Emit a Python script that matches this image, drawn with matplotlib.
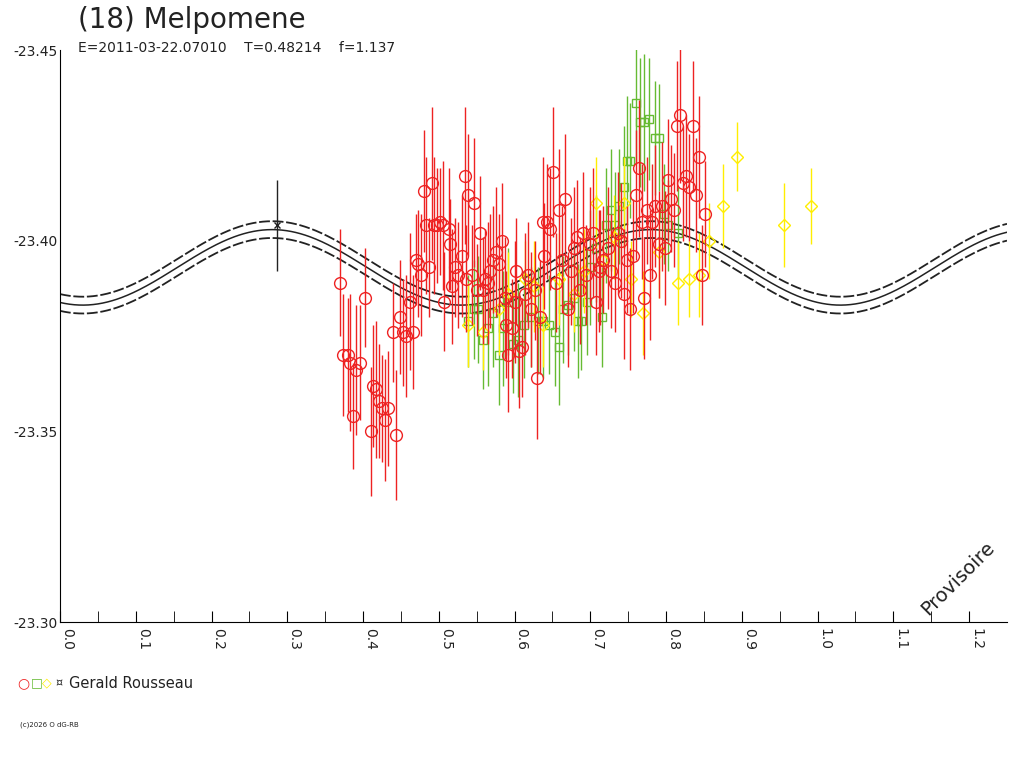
import numpy as np
import matplotlib
matplotlib.use("Agg")
import matplotlib.pyplot as plt

title = "(18) Melpomene"
subtitle = "E=2011-03-22.07010    T=0.48214    f=1.137"
observer = "Gerald Rousseau"

red_x = [0.370,0.374,0.380,0.383,0.387,0.391,0.396,0.403,0.410,0.413,0.417,0.421,0.425,0.429,0.433,0.440,0.444,0.449,0.453,0.457,
 0.462,0.466,0.470,0.473,0.477,0.481,0.483,0.487,0.491,0.494,0.497,0.501,0.505,0.507,0.513,0.515,0.518,0.522,0.526,0.530,
 0.534,0.536,0.539,0.544,0.547,0.551,0.555,0.559,0.561,0.565,0.568,0.572,0.575,0.579,0.583,0.587,0.589,0.592,0.596,0.600,
 0.602,0.606,0.610,0.614,0.618,0.622,0.627,0.630,0.633,0.637,0.639,0.643,0.647,0.651,0.655,0.659,0.662,0.666,0.670,0.674,
 0.678,0.682,0.686,0.690,0.694,0.699,0.703,0.707,0.711,0.713,0.717,0.723,0.727,0.732,0.736,0.740,0.744,0.748,0.752,0.756,
 0.760,0.764,0.768,0.771,0.775,0.779,0.782,0.786,0.790,0.794,0.798,0.802,0.806,0.810,0.814,0.818,0.822,0.826,0.830,0.835,
 0.839,0.843,0.847,0.852]
red_y = [-23.389,-23.370,-23.370,-23.368,-23.354,-23.366,-23.368,-23.385,-23.350,-23.362,-23.361,-23.358,-23.356,-23.353,-23.356,-23.376,-23.349,-23.380,-23.376,-23.375,
 -23.384,-23.376,-23.395,-23.394,-23.391,-23.413,-23.404,-23.393,-23.415,-23.404,-23.404,-23.405,-23.404,-23.384,-23.403,-23.399,-23.388,-23.393,-23.391,-23.396,
 -23.417,-23.390,-23.412,-23.391,-23.410,-23.387,-23.402,-23.387,-23.390,-23.389,-23.392,-23.395,-23.397,-23.394,-23.400,-23.385,-23.378,-23.370,-23.377,-23.384,
 -23.392,-23.371,-23.372,-23.386,-23.391,-23.382,-23.387,-23.364,-23.380,-23.405,-23.396,-23.405,-23.403,-23.418,-23.389,-23.408,-23.395,-23.411,-23.382,-23.392,
 -23.398,-23.401,-23.387,-23.402,-23.391,-23.399,-23.402,-23.384,-23.392,-23.393,-23.395,-23.398,-23.392,-23.389,-23.402,-23.400,-23.386,-23.395,-23.382,-23.396,
 -23.412,-23.419,-23.405,-23.385,-23.408,-23.391,-23.405,-23.409,-23.399,-23.409,-23.398,-23.416,-23.411,-23.408,-23.430,-23.433,-23.415,-23.417,-23.414,-23.430,
 -23.412,-23.422,-23.391,-23.407]
red_e = [0.014,0.016,0.015,0.018,0.014,0.017,0.015,0.013,0.017,0.016,0.018,0.015,0.014,0.016,0.015,0.013,0.017,0.015,0.014,0.016,
 0.018,0.015,0.012,0.014,0.016,0.016,0.018,0.013,0.020,0.018,0.015,0.014,0.017,0.013,0.016,0.012,0.015,0.013,0.014,0.016,
 0.018,0.014,0.016,0.013,0.017,0.012,0.015,0.014,0.013,0.016,0.015,0.014,0.017,0.013,0.015,0.016,0.014,0.015,0.013,0.016,
 0.014,0.015,0.013,0.016,0.014,0.015,0.013,0.016,0.015,0.017,0.014,0.015,0.016,0.017,0.013,0.016,0.014,0.017,0.015,0.014,
 0.016,0.015,0.014,0.016,0.013,0.015,0.017,0.014,0.016,0.015,0.014,0.016,0.015,0.013,0.016,0.015,0.017,0.014,0.016,0.015,
 0.017,0.018,0.015,0.016,0.014,0.017,0.015,0.016,0.014,0.017,0.015,0.016,0.014,0.015,0.017,0.018,0.015,0.016,0.014,0.017,
 0.015,0.016,0.013,0.014]

green_x = [0.539,0.546,0.552,0.559,0.565,0.572,0.579,0.585,0.592,0.598,0.605,0.612,0.622,0.631,0.638,0.645,0.653,0.658,0.664,0.671,
 0.678,0.684,0.688,0.695,0.700,0.707,0.715,0.721,0.727,0.733,0.738,0.744,0.749,0.753,0.760,0.766,0.771,0.778,0.785,0.790,
 0.797,0.803,0.816]
green_y = [-23.379,-23.382,-23.382,-23.374,-23.377,-23.381,-23.370,-23.377,-23.384,-23.373,-23.374,-23.378,-23.380,-23.379,-23.379,-23.378,-23.376,-23.372,-23.382,-23.383,
 -23.385,-23.379,-23.379,-23.384,-23.393,-23.398,-23.380,-23.404,-23.408,-23.404,-23.409,-23.414,-23.421,-23.421,-23.436,-23.431,-23.431,-23.432,-23.427,-23.427,
 -23.407,-23.404,-23.402]
green_e = [0.012,0.013,0.014,0.013,0.015,0.014,0.013,0.015,0.014,0.013,0.015,0.014,0.013,0.014,0.015,0.013,0.014,0.015,0.014,0.013,
 0.014,0.015,0.013,0.014,0.015,0.014,0.013,0.015,0.016,0.014,0.015,0.016,0.017,0.015,0.016,0.017,0.018,0.016,0.015,0.014,
 0.013,0.012,0.012]

yellow_x = [0.539,0.559,0.579,0.592,0.614,0.625,0.638,0.658,0.678,0.691,0.708,0.717,0.731,0.744,0.754,0.770,0.790,0.816,0.830,0.843,
 0.856,0.875,0.893,0.955,0.991]
yellow_y = [-23.378,-23.376,-23.382,-23.386,-23.390,-23.388,-23.378,-23.390,-23.386,-23.392,-23.410,-23.395,-23.401,-23.410,-23.390,-23.381,-23.397,-23.389,-23.390,-23.391,
 -23.400,-23.409,-23.422,-23.404,-23.409]
yellow_e = [0.011,0.010,0.012,0.011,0.010,0.012,0.011,0.012,0.010,0.011,0.012,0.010,0.011,0.012,0.010,0.011,0.012,0.011,0.010,0.011,
 0.010,0.011,0.009,0.011,0.010]

special_x = [0.287]
special_y = [-23.404]
special_e = [0.012]

model_mean = -23.393
model_amp = 0.0099
model_peak = 0.28
model_band = 0.0022

fig = plt.figure(figsize=(10.24, 7.68), dpi=100)
ax = fig.add_axes([60/1024, 1-622/768, 947/1024, 572/768])
ax.set_xlim(0, 1.25)
ax.set_ylim(-23.30, -23.45)

ph = np.linspace(0, 1.25, 800)
curve = model_mean - model_amp*np.cos(4*np.pi*(ph-model_peak))
ax.plot(ph, curve, color='#222222', lw=1.1)
ax.plot(ph, curve-model_band, color='#222222', lw=1.3, ls=(0, (6, 1.5)))
ax.plot(ph, curve+model_band, color='#222222', lw=1.3, ls=(0, (6, 1.5)))

def series(x, y, e, col, mk, ms):
    ax.errorbar(x, y, yerr=e, fmt='none', ecolor=col, elinewidth=1, capsize=0)
    ax.plot(x, y, ls='none', marker=mk, ms=ms, mfc='none', mec=col, mew=1)

series(green_x, green_y, green_e, '#66bb33', 's', 6)
series(yellow_x, yellow_y, yellow_e, '#ffee00', 'D', 6)
series(red_x, red_y, red_e, '#ee2222', 'o', 8.5)
ax.errorbar(special_x, special_y, yerr=special_e, fmt='none', ecolor='#222222', elinewidth=1)
ax.plot(special_x, special_y, ls='none', marker='x', ms=5, color='#222222')

for s in ['top', 'right']:
    ax.spines[s].set_visible(False)
ax.set_xticks(np.arange(0, 1.21, 0.1))
ax.set_xticks(np.arange(0.05, 1.25, 0.1), minor=True)
ax.set_xticklabels([f"{v:.1f}" for v in np.arange(0, 1.21, 0.1)], rotation=270, fontsize=10, color='#222222')
ax.tick_params(axis='x', which='major', direction='in', length=8, pad=4)
ax.tick_params(axis='x', which='minor', direction='in', length=8)
ax.set_yticks([-23.45, -23.40, -23.35, -23.30])
ax.set_yticklabels(["-23.45", "-23.40", "-23.35", "-23.30"], fontsize=10, color='#222222')
ax.tick_params(axis='y', direction='out', length=0, pad=2)
for lab in ax.get_xticklabels():
    lab.set_horizontalalignment('left')

fig.text(78/1024, 1-20/768, title, fontsize=20, color='#222222', va='center')
fig.text(78/1024, 1-48/768, subtitle, fontsize=10, color='#222222', va='center')
fig.text(958/1024, 1-578/768, "Provisoire", rotation=45, fontsize=14,
         ha='center', va='center', color='#222222')

ly = 1-683/768
fig.text(17/1024, ly, "○", color='#ee2222', fontsize=10, va='center')
fig.text(31/1024, ly, "□", color='#66bb33', fontsize=9, va='center')
fig.text(42/1024, ly, "◇", color='#ffee00', fontsize=9, va='center')
fig.text(55/1024, ly, "¤", color='#222222', fontsize=8, va='center')
fig.text(69/1024, ly, observer, color='#222222', fontsize=10.5, va='center')
fig.text(20/1024, 1-725/768, "(c)2026 O dG-RB", fontsize=5, color='#222222', va='center')

fig.savefig("out.png", dpi=100, facecolor='white')
